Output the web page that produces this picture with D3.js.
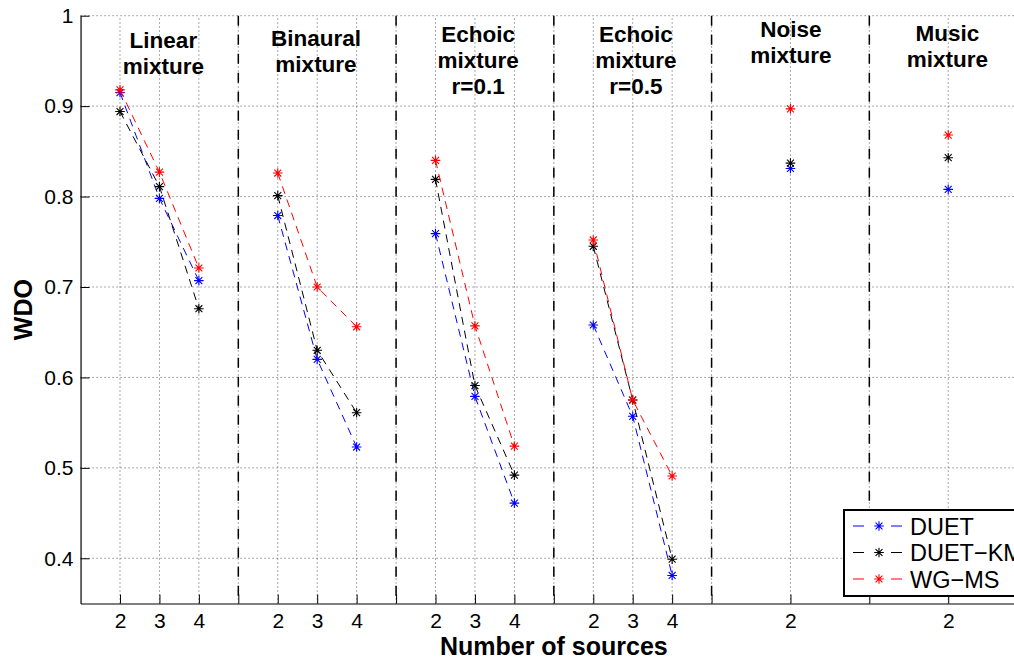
<!DOCTYPE html>
<html>
<head>
<meta charset="utf-8">
<script src="https://cdn.jsdelivr.net/npm/d3@7"></script>
<style>
  html, body { margin: 0; padding: 0; background: #fff; }
  svg { display: block; font-family: "Liberation Sans", Arial, Helvetica, sans-serif; }
</style>
</head>
<body>
<svg id="chart" width="1014" height="659"></svg>
<script>
// x positions of the plotted source counts (groups are separated by gaps)
const tickPos = [1, 2, 3, 5, 6, 7, 9, 10, 11, 13, 14, 15, 18, 22];
const tickLabels = ["2", "3", "4", "2", "3", "4", "2", "3", "4", "2", "3", "4", "2", "2"];
// which mixture group each position belongs to (lines only join points in a group)
const groupIndex = [0, 0, 0, 1, 1, 1, 2, 2, 2, 3, 3, 3, 4, 5];
const dividerPos = [4, 8, 12, 16, 20];

const yTicks = [0.4, 0.5, 0.6, 0.7, 0.8, 0.9, 1];
const yTickLabels = ["0.4", "0.5", "0.6", "0.7", "0.8", "0.9", "1"];

// WDO per method
const duet   = [0.915, 0.798, 0.707, 0.779, 0.620, 0.523, 0.759, 0.579, 0.461, 0.658, 0.557, 0.381, 0.831, 0.808];
const duetKM = [0.894, 0.811, 0.676, 0.801, 0.630, 0.561, 0.819, 0.591, 0.492, 0.745, 0.575, 0.399, 0.837, 0.843];
const wgMS   = [0.918, 0.827, 0.721, 0.826, 0.700, 0.656, 0.840, 0.657, 0.524, 0.752, 0.575, 0.491, 0.897, 0.868];

const seriesNames = ["DUET", "DUET\u2212KM", "WG\u2212MS"];
const seriesColors = ["#0000ff", "#000000", "#ff0000"];

const groupTitles = [
  ["Linear", "mixture"],
  ["Binaural", "mixture"],
  ["Echoic", "mixture", "r=0.1"],
  ["Echoic", "mixture", "r=0.5"],
  ["Noise", "mixture"],
  ["Music", "mixture"]
];
// anchor of each group title: centre x (data units) and first baseline (WDO units)
const titleX = [2.1, 5.97, 10.08, 14.08, 18.01, 21.98];
const titleY = [0.964, 0.9665, 0.971, 0.971, 0.9764, 0.972];

const svg = d3.select("#chart");
const x = d3.scaleLinear().domain([0, 24]).range([80.56, 1027.1]);
const y = d3.scaleLinear().domain([0.35, 1]).range([603.5, 15.7]);

const plot = svg.append("g");

// dotted grid
plot.append("g").selectAll("line").data(tickPos.concat(dividerPos)).join("line")
  .attr("x1", d => x(d)).attr("x2", d => x(d))
  .attr("y1", y(0.35)).attr("y2", y(1))
  .attr("stroke", "#555").attr("stroke-width", 1).attr("stroke-dasharray", "1,3");
plot.append("g").selectAll("line").data(yTicks).join("line")
  .attr("x1", x(0)).attr("x2", x(24))
  .attr("y1", d => y(d)).attr("y2", d => y(d))
  .attr("stroke", "#555").attr("stroke-width", 1).attr("stroke-dasharray", "1,3");

// group dividers
plot.append("g").selectAll("line").data(dividerPos).join("line")
  .attr("x1", d => x(d)).attr("x2", d => x(d))
  .attr("y1", y(1)).attr("y2", y(0.35))
  .attr("stroke", "#000").attr("stroke-width", 1.5).attr("stroke-dasharray", "10,9");

// axes (ticks point inward)
const xAxis = d3.axisBottom(x)
  .tickValues(tickPos.concat(dividerPos))
  .tickSizeInner(-9).tickSizeOuter(0)
  .tickPadding(10)
  .tickFormat(d => { const i = tickPos.indexOf(d); return i >= 0 ? tickLabels[i] : ""; });
const gx = svg.append("g").attr("transform", `translate(0,${y(0.35)})`).call(xAxis);
gx.select(".domain").attr("stroke", "#000").attr("stroke-width", 1.2);
gx.selectAll(".tick line").attr("stroke", "#000");
gx.selectAll(".tick text").attr("font-size", 21).attr("fill", "#000")
  .attr("font-family", "Liberation Sans, Arial, sans-serif");

const yAxis = d3.axisLeft(y)
  .tickValues(yTicks)
  .tickSizeInner(-9).tickSizeOuter(0)
  .tickPadding(7)
  .tickFormat((d, i) => yTickLabels[i]);
const gy = svg.append("g").attr("transform", `translate(${x(0)},0)`).call(yAxis);
gy.select(".domain").attr("stroke", "#000").attr("stroke-width", 1.2);
gy.selectAll(".tick line").attr("stroke", "#000");
gy.selectAll(".tick text").attr("font-size", 21).attr("fill", "#000")
  .attr("font-family", "Liberation Sans, Arial, sans-serif");

// axis titles
svg.append("text").attr("x", (x(0) + x(24)) / 2).attr("y", 655)
  .attr("text-anchor", "middle").attr("font-size", 25).attr("font-weight", "bold")
  .text("Number of sources");
svg.append("text").attr("transform", `translate(32,${(y(0.35) + y(1)) / 2}) rotate(-90)`)
  .attr("text-anchor", "middle").attr("font-size", 25).attr("font-weight", "bold")
  .text("WDO");

// group titles
groupTitles.forEach((lines, g) => {
  const t = svg.append("text").attr("text-anchor", "middle")
    .attr("font-size", 22.5).attr("font-weight", "bold");
  lines.forEach((s, k) => {
    t.append("tspan").attr("x", x(titleX[g])).attr("y", y(titleY[g]) + k * 26).text(s);
  });
});

// asterisk marker path
function starPath(cx, cy, r) {
  const d = r * 0.72;
  return `M${cx - r},${cy}H${cx + r}M${cx},${cy - r}V${cy + r}` +
         `M${cx - d},${cy - d}L${cx + d},${cy + d}M${cx - d},${cy + d}L${cx + d},${cy - d}`;
}

const allSeries = [duet, duetKM, wgMS];
allSeries.forEach((vals, s) => {
  const pts = vals.map((v, i) => ({ x: tickPos[i], y: v, g: groupIndex[i] }));
  const byGroup = d3.groups(pts, d => d.g).map(e => e[1]);
  const line = d3.line().x(d => x(d.x)).y(d => y(d.y));
  plot.append("g").selectAll("path").data(byGroup.filter(g => g.length > 1)).join("path")
    .attr("d", line).attr("fill", "none")
    .attr("stroke", seriesColors[s]).attr("stroke-width", 1)
    .attr("stroke-dasharray", "8,6");
  plot.append("g").selectAll("path").data(pts).join("path")
    .attr("d", d => starPath(x(d.x), y(d.y), 4.8))
    .attr("fill", "none").attr("stroke", seriesColors[s]).attr("stroke-width", 1.1);
});

// legend
const leg = svg.append("g");
leg.append("rect").attr("x", 844).attr("y", 510).attr("width", 200).attr("height", 86)
  .attr("fill", "#fff").attr("stroke", "#000").attr("stroke-width", 2);
seriesNames.forEach((name, s) => {
  const cy = 526 + s * 26.5;
  leg.append("line").attr("x1", 853).attr("x2", 864).attr("y1", cy).attr("y2", cy)
    .attr("stroke", seriesColors[s]).attr("stroke-width", 1);
  leg.append("line").attr("x1", 891).attr("x2", 902).attr("y1", cy).attr("y2", cy)
    .attr("stroke", seriesColors[s]).attr("stroke-width", 1);
  leg.append("path").attr("d", starPath(879, cy, 4.8))
    .attr("fill", "none").attr("stroke", seriesColors[s]).attr("stroke-width", 1.1);
  leg.append("text").attr("x", 910).attr("y", cy + 8.5).attr("font-size", 23.5).text(name);
});
</script>
</body>
</html>
